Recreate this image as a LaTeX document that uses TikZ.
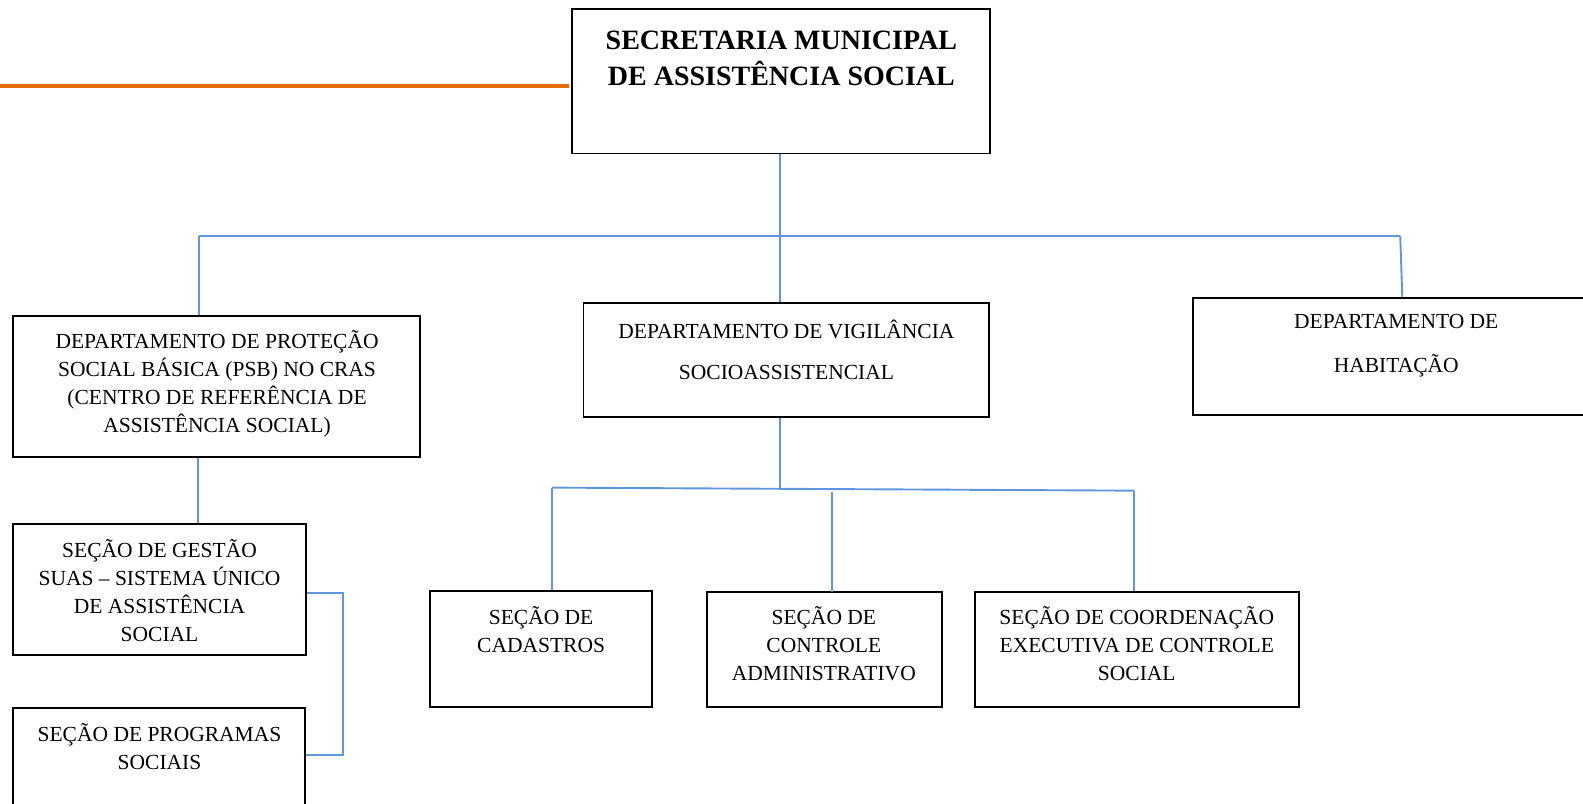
\documentclass[tikz,border=0pt]{standalone}
\usepackage{fontspec}
\setmainfont{Liberation Serif}
\usetikzlibrary{fit}

\definecolor{linkblue}{RGB}{96,150,222}
\definecolor{barorange}{RGB}{228,108,10}

\tikzset{
    org box/.style={draw, inner sep=0pt, line width=1.9pt},
    org text/.style={align=center, inner sep=0pt, font=\fontsize{21.5}{28}\selectfont},
    head text/.style={align=center, inner sep=0pt, font=\fontsize{28}{36}\selectfont\bfseries},
    link/.style={draw=linkblue, line width=1.9pt},
    bar/.style={draw=barorange, line width=3.8pt}
    }

\begin{document}
\begin{tikzpicture}[x=1.00957pt, y=-1.00957pt]
                \useasboundingbox (0,0) rectangle (1568,796);
                \clip (0,0) rectangle (1568,796);
                % boxes
                \node(sec)[org box, fit={(567,9) (981,152)}]{};
                \node(dpsb)[org box, fit={(13,313) (416,453)}]{};
                \node(dvig)[org box, fit={(578,300) (980,413)}]{};
                \node(dhab)[org box, fit={(1182,295) (1600,411)}]{};
                \node(gest)[org box, fit={(13,519) (303,649)}]{};
                \node(prog)[org box, fit={(13,701) (302,800)}]{};
                \node(cad)[org box, fit={(426,585) (646,700)}]{};
                \node(ctrl)[org box, fit={(700,586) (933,700)}]{};
                \node(coord)[org box, fit={(966,586) (1287,700)}]{};
                % texts
                \node(secT)[head text] at (774,58){SECRETARIA MUNICIPAL\\DE ASSISTÊNCIA SOCIAL};
                \node(dpsbT)[org text] at (215,380){DEPARTAMENTO DE PROTEÇÃO\\SOCIAL BÁSICA (PSB) NO CRAS\\(CENTRO DE REFERÊNCIA DE\\ASSISTÊNCIA SOCIAL)};
                \node(dvigT)[org text, font=\fontsize{21.5}{41}\selectfont] at (779,347){DEPARTAMENTO DE VIGILÂNCIA\\SOCIOASSISTENCIAL};
                \node(dhabT)[org text, font=\fontsize{21.5}{44}\selectfont] at (1383,342){DEPARTAMENTO DE\\HABITAÇÃO};
                \node(gestT)[org text] at (158,585){SEÇÃO DE GESTÃO\\SUAS – SISTEMA ÚNICO\\DE ASSISTÊNCIA\\SOCIAL};
                \node(progT)[org text] at (158,740){SEÇÃO DE PROGRAMAS\\SOCIAIS};
                \node(cadT)[org text] at (536,624){SEÇÃO DE\\CADASTROS};
                \node(ctrlT)[org text] at (816,638){SEÇÃO DE\\CONTROLE\\ADMINISTRATIVO};
                \node(coordT)[org text] at (1126,638){SEÇÃO DE COORDENAÇÃO\\EXECUTIVA DE CONTROLE\\SOCIAL};
                % orange bar
                \coordinate(barL) at (0,85);
                \draw[bar] (barL) -- ([xshift=-2pt]barL -| sec.west);
                % first level
                \coordinate(busA) at (773,234);
                \coordinate(busAL) at (197,234);
                \coordinate(busAR) at (1387,234);
                \draw[link] (busAL) -- (busAR);
                \draw[link] (sec.south -| busA) -- (busA |- dvig.north);
                \draw[link] (busAL) -- (busAL |- dpsb.north);
                \draw[link] (busAR) -- ([xshift=2]busAR |- dhab.north);
                % left column
                \draw[link] ([xshift=-1]busAL |- dpsb.south) -- ([xshift=-1]busAL |- gest.north);
                \draw[link] ([yshift=-3]gest.east) -- ++(36,0) |- ([yshift=3]prog.east);
                % second level
                \coordinate(busB) at (773,484);
                \coordinate(busBL) at (547,483);
                \coordinate(busBR) at (1123,486);
                \draw[link] (busB |- dvig.south) -- (busB);
                \draw[link] (busBL) -- (busBR);
                \draw[link] (busBL) -- (busBL |- cad.north);
                \draw[link] (824,487) -- (824,586);
                \draw[link] (busBR) -- (busBR |- coord.north);
            \end{tikzpicture}
\end{document}
